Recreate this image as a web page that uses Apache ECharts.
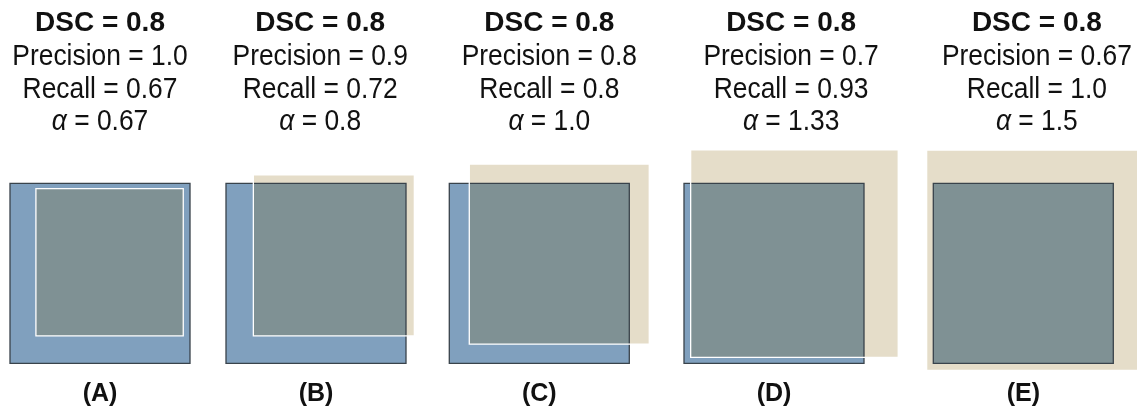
<!DOCTYPE html>
<html>
<head>
<meta charset="utf-8">
<script src="https://cdn.jsdelivr.net/npm/echarts@6/dist/echarts.min.js"></script>
<style>
  html, body { margin: 0; padding: 0; background: #ffffff; }
  #chart { width: 1137px; height: 411px; }
</style>
</head>
<body>
<div id="chart"></div>
<script>
// Five overlap scenarios that all share DSC = 0.8
const panelLabels = ['(A)', '(B)', '(C)', '(D)', '(E)'];
const dscValues = ['0.8', '0.8', '0.8', '0.8', '0.8'];
const precisionValues = ['1.0', '0.9', '0.8', '0.7', '0.67'];
const recallValues = ['0.67', '0.72', '0.8', '0.93', '1.0'];
const alphaValues = ['0.67', '0.8', '1.0', '1.33', '1.5'];
// lower-left corner of each predicted square, in units of the ground-truth side
const predLeft = [0.144, 0.152, 0.111, 0.037, -0.037];
const predBottom = [0.152, 0.152, 0.107, 0.033, -0.04];

// placement of each ground-truth square on the page (pixels)
const panelLeft = [10, 226, 449.3, 684, 933.3];
const panelTop = 183.3;
const panelSize = 180;

const FONT = '"Liberation Sans", Arial, Helvetica, sans-serif';
const COLORS = {
  truth: '#80a0be',
  pred: '#e5ddc9',
  overlap: '#7f9194',
  truthEdge: '#39434b',
  predEdge: '#ffffff',
  text: '#111111'
};

// centred text line; squeeze narrows the glyphs horizontally
function textEl(text, x, y, font, squeeze, extra) {
  return {
    type: 'text',
    silent: true,
    x: x,
    y: y,
    scaleX: squeeze,
    style: Object.assign({
      text: text, x: 0, y: 0, font: font, fill: COLORS.text,
      align: 'center', verticalAlign: 'middle'
    }, extra || {})
  };
}

const grids = [], xAxes = [], yAxes = [], series = [];

panelLabels.forEach(function (label, i) {
  grids.push({ left: panelLeft[i], top: panelTop, width: panelSize, height: panelSize });
  xAxes.push({ type: 'value', gridIndex: i, min: 0, max: 1, show: false });
  yAxes.push({ type: 'value', gridIndex: i, min: 0, max: 1, show: false });
  series.push({
    type: 'custom',
    xAxisIndex: i,
    yAxisIndex: i,
    clip: false,
    silent: true,
    // [left, bottom, side]; the side follows from the area ratio alpha
    data: [[predLeft[i], predBottom[i], Math.sqrt(parseFloat(alphaValues[i]))]],
    renderItem: function (params, api) {
      const x0 = api.value(0), y0 = api.value(1), side = api.value(2);
      const x1 = x0 + side, y1 = y0 + side;
      const box = function (a0, b0, a1, b1) {
        const p = api.coord([a0, b1]), q = api.coord([a1, b0]);
        return { x: p[0], y: p[1], width: q[0] - p[0], height: q[1] - p[1] };
      };
      const gt = box(0, 0, 1, 1);
      const pr = box(x0, y0, x1, y1);
      const ov = box(Math.max(0, x0), Math.max(0, y0), Math.min(1, x1), Math.min(1, y1));

      const unionLeft = Math.min(gt.x, pr.x);
      const unionRight = Math.max(gt.x + gt.width, pr.x + pr.width);
      const titleX = (unionLeft + unionRight) / 2;
      const labelX = gt.x + gt.width / 2;
      const regular = '29px ' + FONT;

      return {
        type: 'group',
        children: [
          { type: 'rect', shape: gt, style: { fill: COLORS.truth } },
          { type: 'rect', shape: pr, style: { fill: COLORS.pred } },
          { type: 'rect', shape: ov, style: { fill: COLORS.overlap } },
          { type: 'rect', shape: gt, style: { fill: 'none', stroke: COLORS.truthEdge, lineWidth: 1.3 } },
          { type: 'rect', shape: pr, style: { fill: 'none', stroke: COLORS.predEdge, lineWidth: 1.3 } },
          textEl('DSC = ' + dscValues[i], titleX, 23.5, 'bold 28px ' + FONT, 1),
          textEl('Precision = ' + precisionValues[i], titleX, 56.5, regular, 0.91),
          textEl('Recall = ' + recallValues[i], titleX, 90, regular, 0.91),
          textEl('{a|α} = ' + alphaValues[i], titleX, 122, regular, 0.91, {
            rich: { a: { font: 'italic 29px ' + FONT, fill: COLORS.text } }
          }),
          textEl(label, labelX, 394, 'bold 25px ' + FONT, 1)
        ]
      };
    }
  });
});

const chart = echarts.init(document.getElementById('chart'), null, { renderer: 'canvas' });
chart.setOption({
  animation: false,
  backgroundColor: '#ffffff',
  grid: grids,
  xAxis: xAxes,
  yAxis: yAxes,
  series: series
});
</script>
</body>
</html>
